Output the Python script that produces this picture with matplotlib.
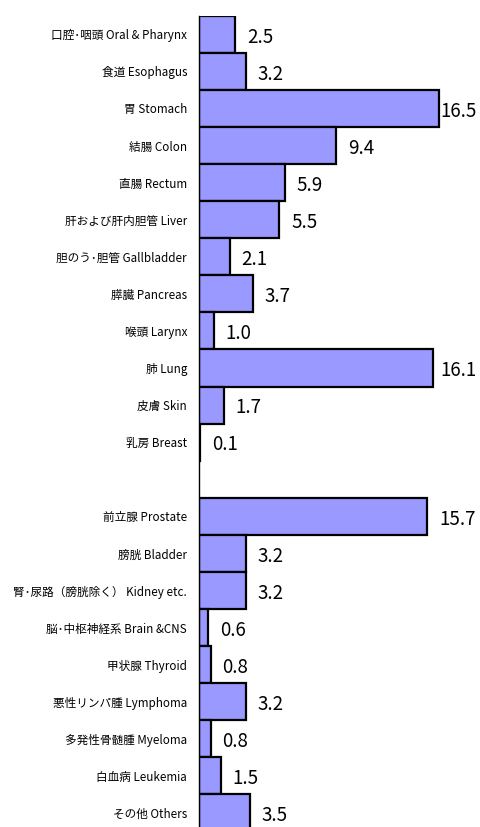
import numpy as np
import matplotlib.pyplot as plt

plt.rcParams['font.family'] = ['Noto Sans CJK JP', 'DejaVu Sans']

# sites common to both sexes / digestive etc.
sites_a = ['口腔･咽頭 Oral & Pharynx', '食道 Esophagus', '胃 Stomach', '結腸 Colon',
           '直腸 Rectum', '肝および肝内胆管 Liver', '胆のう･胆管 Gallbladder',
           '膵臓 Pancreas', '喉頭 Larynx', '肺 Lung', '皮膚 Skin', '乳房 Breast']
rate_a = [2.5, 3.2, 16.5, 9.4, 5.9, 5.5, 2.1, 3.7, 1.0, 16.1, 1.7, 0.1]

sites_b = ['前立腺 Prostate', '膀胱 Bladder', '腎･尿路（膀胱除く） Kidney etc.',
           '脳･中枢神経系 Brain &CNS', '甲状腺 Thyroid', '悪性リンパ腫 Lymphoma',
           '多発性骨髄腫 Myeloma', '白血病 Leukemia', 'その他 Others']
rate_b = [15.7, 3.2, 3.2, 0.6, 0.8, 3.2, 0.8, 1.5, 3.5]

# one empty slot between the two groups
pos_a = np.arange(len(sites_a))
pos_b = len(sites_a) + 1 + np.arange(len(sites_b))
pos = np.concatenate([pos_a, pos_b])
labels = sites_a + sites_b
vals = rate_a + rate_b

fig = plt.figure(figsize=(4.8, 8.27), dpi=100)
ax = fig.add_axes([0.4146, -0.0055, 0.5854, 0.9865])

ax.barh(pos, vals, height=1.0, color='#9999ff', edgecolor='black', linewidth=1.6)

for y, v in zip(pos, vals):
    # keep the number inside the plot area for the longest bars
    xt = min(v + 0.82, 16.6)
    ax.annotate(f'{v:.1f}', xy=(xt, y), xytext=(0, -2), textcoords='offset points',
                ha='left', va='center', fontsize=13.5)

ax.set_yticks(pos)
ax.set_yticklabels(labels, fontsize=8.4)
ax.tick_params(axis='y', length=0, pad=8.6)
ax.set_ylim(len(labels) + 0.5, -0.5)
ax.set_xlim(0, 19.31)
ax.set_xticks([])

for s in ['top', 'right', 'bottom']:
    ax.spines[s].set_visible(False)
ax.spines['left'].set_linewidth(1.0)

fig.savefig('out.png', dpi=100)
